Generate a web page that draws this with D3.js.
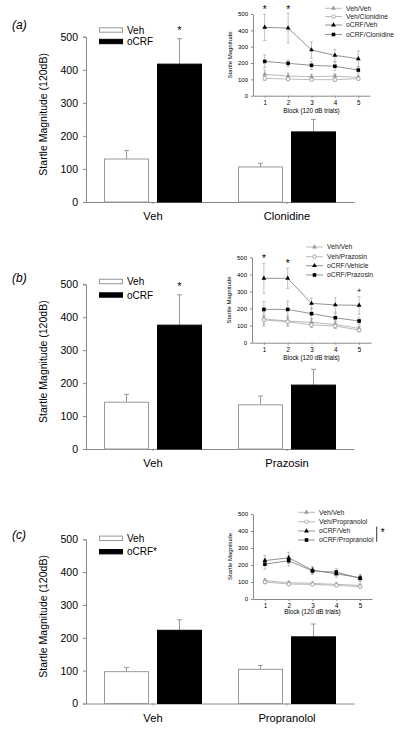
<!DOCTYPE html>
<html><head><meta charset="utf-8">
<script src="https://cdn.jsdelivr.net/npm/d3@7"></script>
<style>html,body{margin:0;padding:0;background:#fff}svg{display:block;font-family:Arial,"Liberation Sans",sans-serif}</style>
</head><body><svg id="c" width="400" height="730"></svg>
<script>
// ---------- DATA ----------
const yTicks = [0,100,200,300,400,500];
const blocks = [1,2,3,4,5];
const panelLabels = ["(a)","(b)","(c)"];
const groupsA = ["Veh","Clonidine"];
const groupsB = ["Veh","Prazosin"];
const groupsC = ["Veh","Propranolol"];
const vehMeanA = [130,106], vehSemA = [26,11];
const ocrfMeanA = [417,212], ocrfSemA = [77,38];
const vehMeanB = [142,134], vehSemB = [24,27];
const ocrfMeanB = [376,194], ocrfSemB = [92,48];
const vehMeanC = [97,104], vehSemC = [13,12];
const ocrfMeanC = [223,203], ocrfSemC = [32,39];
const legendA = ["Veh","oCRF"], legendB = ["Veh","oCRF"], legendC = ["Veh","oCRF*"];
// insets
const insetNamesA = ["Veh/Veh","Veh/Clonidine","oCRF/Veh","oCRF/Clonidine"];
const insetNamesB = ["Veh/Veh","Veh/Prazosin","oCRF/Vehicle","oCRF/Prazosin"];
const insetNamesC = ["Veh/Veh","Veh/Propranolol","oCRF/Veh","oCRF/Propranolol"];
const vehVehA = [131,120,116,120,112], vehVehSemA = [26,18,15,15,12];
const vehDrugA = [106,102,98,98,104], vehDrugSemA = [12,10,8,10,10];
const ocrfVehA = [418,414,280,247,226], ocrfVehSemA = [80,90,50,37,47];
const ocrfDrugA = [210,198,186,180,157], ocrfDrugSemA = [39,20,25,25,20];
const vehVehB = [139,127,119,107,84], vehVehSemB = [43,30,20,20,12];
const vehDrugB = [133,123,104,98,74], vehDrugSemB = [25,20,15,15,10];
const ocrfVehB = [377,377,230,221,219], ocrfVehSemB = [88,59,30,43,51];
const ocrfDrugB = [195,195,170,146,127], ocrfDrugSemB = [45,49,30,25,19];
const vehVehC = [108,96,92,86,80], vehVehSemC = [12,10,8,8,8];
const vehDrugC = [100,88,86,80,73], vehDrugSemC = [10,10,8,8,8];
const ocrfVehC = [226,242,170,148,125], ocrfVehSemC = [30,33,20,20,18];
const ocrfDrugC = [205,225,165,158,122], ocrfDrugSemC = [30,30,20,20,20];

const svg = d3.select("#c");
const AX = "#8a8a8a";

function mainPanel(o){
  const g = svg.append("g");
  const x = d3.scaleBand().domain(o.groups).range([86,354]).padding(0);
  const y = d3.scaleLinear().domain([0,500]).range([o.y0,o.yTop]);
  const bw = 45, gap = 4;
  const yAxis = d3.axisLeft(y).tickValues(yTicks).tickSize(3).tickPadding(5);
  const ya = g.append("g").attr("transform","translate(86,0)").call(yAxis);
  ya.select(".domain").attr("stroke",AX);
  ya.selectAll(".tick line").attr("stroke",AX);
  ya.selectAll("text").attr("font-size",10.5).attr("fill","#000");
  const xAxis = d3.axisBottom(x).tickSize(2).tickPadding(6).tickSizeOuter(0);
  const xa = g.append("g").attr("transform",`translate(0,${o.y0})`).call(xAxis);
  xa.select(".domain").attr("stroke",AX);
  xa.selectAll(".tick line").attr("stroke",AX);
  xa.selectAll("text").attr("font-size",11.2).attr("fill","#000").attr("dy","0.9em");
  const series = [
    {mean:o.veh, sem:o.vehSem, fill:"#fff", stroke:"#999", off:-gap-bw},
    {mean:o.ocrf, sem:o.ocrfSem, fill:"#000", stroke:"#000", off:gap}
  ];
  series.forEach(s=>{
    o.groups.forEach((gr,i)=>{
      const cx = x(gr)+x.bandwidth()/2;
      const xl = cx + s.off;
      const top = y(s.mean[i]), et = y(s.mean[i]+s.sem[i]);
      g.append("line").attr("x1",xl+bw/2).attr("x2",xl+bw/2).attr("y1",top).attr("y2",et).attr("stroke","#999").attr("stroke-width",1);
      g.append("line").attr("x1",xl+bw/2-2.5).attr("x2",xl+bw/2+2.5).attr("y1",et).attr("y2",et).attr("stroke","#999").attr("stroke-width",1);
      g.append("rect").attr("x",xl+0.5).attr("y",top).attr("width",bw-1).attr("height",o.y0-top)
        .attr("fill",s.fill).attr("stroke",s.stroke).attr("stroke-width",1);
    });
  });
  g.append("text").attr("transform",`translate(47,${(o.y0+o.yTop)/2-5}) rotate(-90)`)
    .attr("text-anchor","middle").attr("font-size",10.5).text("Startle Magnitude (120dB)");
  g.append("text").attr("x",12).attr("y",o.labelY).attr("font-size",12).attr("font-style","italic").text(o.label);
  [{f:"#fff",s:"#999",yy:o.legY[0]},{f:"#000",s:"#000",yy:o.legY[1]}].forEach((l,i)=>{
    g.append("rect").attr("x",99.5).attr("y",l.yy-2.2).attr("width",23).attr("height",4.4).attr("fill",l.f).attr("stroke",l.s).attr("stroke-width",1);
    g.append("text").attr("x",127).attr("y",l.yy).attr("dy","0.35em").attr("font-size",10).text(o.legend[i]);
  });
  if(o.star){
    const cx = x(o.groups[0])+x.bandwidth()/2 + gap + bw/2;
    g.append("text").attr("x",cx).attr("y",y(o.ocrf[0]+o.ocrfSem[0])-5).attr("text-anchor","middle").attr("font-size",11).text("*");
  }
}

function symbol(g,type,cx,cy,color){
  if(type==="tri"){
    g.append("path").attr("d",d3.symbol(d3.symbolTriangle,10)()).attr("transform",`translate(${cx},${cy})`).attr("fill",color);
  } else if(type==="sq"){
    g.append("rect").attr("x",cx-1.8).attr("y",cy-1.8).attr("width",3.6).attr("height",3.6).attr("fill",color);
  } else {
    g.append("circle").attr("cx",cx).attr("cy",cy).attr("r",1.8).attr("fill","#fff").attr("stroke",color).attr("stroke-width",0.8);
  }
}

function inset(o){
  const g = svg.append("g");
  const x = d3.scaleLinear().domain([0.5,5.5]).range(o.xr);
  const y = d3.scaleLinear().domain([0,500]).range([o.y0,o.yTop]);
  const ya = g.append("g").attr("transform",`translate(${o.xr[0]},0)`).call(d3.axisLeft(y).tickValues(yTicks).tickSize(2).tickPadding(3).tickSizeOuter(0));
  ya.select(".domain").attr("stroke",AX);
  ya.selectAll(".tick line").attr("stroke",AX);
  ya.selectAll("text").attr("font-size",6).attr("fill","#000");
  const xa = g.append("g").attr("transform",`translate(0,${o.y0})`).call(d3.axisBottom(x).tickValues(blocks).tickFormat(d3.format("d")).tickSize(2).tickPadding(3).tickSizeOuter(0));
  xa.select(".domain").attr("stroke",AX);
  xa.selectAll(".tick line").attr("stroke",AX);
  xa.selectAll("text").attr("font-size",6.3).attr("fill","#000");
  g.append("text").attr("x",(o.xr[0]+o.xr[1])/2).attr("y",o.y0+o.blockDy).attr("text-anchor","middle").attr("font-size",6.3).text("Block (120 dB trials)");
  g.append("text").attr("transform",`translate(${o.xr[0]-21},${(o.y0+o.yTop)/2}) rotate(-90)`).attr("text-anchor","middle").attr("font-size",6).text("Startle Magnitude");
  const types = ["tri","circ","tri","sq"];
  const cols = ["#999","#999","#000","#000"];
  const lcols = ["#aaa","#aaa","#777","#777"];
  o.series.forEach((s,k)=>{
    const line = d3.line().x((d,i)=>x(blocks[i])).y(d=>y(d));
    g.append("path").attr("d",line(s.m)).attr("fill","none").attr("stroke",lcols[k]).attr("stroke-width",0.8);
    s.m.forEach((v,i)=>{
      const cx = x(blocks[i]);
      g.append("line").attr("x1",cx).attr("x2",cx).attr("y1",y(v-s.e[i])).attr("y2",y(v+s.e[i])).attr("stroke","#999").attr("stroke-width",0.6);
      [v-s.e[i],v+s.e[i]].forEach(t=>g.append("line").attr("x1",cx-1.5).attr("x2",cx+1.5).attr("y1",y(t)).attr("y2",y(t)).attr("stroke","#999").attr("stroke-width",0.6));
    });
  });
  o.series.forEach((s,k)=>{
    s.m.forEach((v,i)=>symbol(g,types[k],x(blocks[i]),y(v),cols[k]));
  });
  o.names.forEach((n,k)=>{
    const yy = o.legY[k];
    g.append("line").attr("x1",o.legX).attr("x2",o.legX+17).attr("y1",yy).attr("y2",yy).attr("stroke",lcols[k]).attr("stroke-width",0.8);
    symbol(g,types[k],o.legX+8.5,yy,cols[k]);
    g.append("text").attr("x",o.legX+21).attr("y",yy).attr("dy","0.35em").attr("font-size",6.8).attr("fill","#222").text(n);
  });
  (o.marks||[]).forEach(m=>{
    g.append("text").attr("x",x(m.b)).attr("y",m.yy).attr("text-anchor","middle").attr("font-size",m.fs||10).text(m.t);
  });
  if(o.bracket){
    g.append("line").attr("x1",o.bracket.x).attr("x2",o.bracket.x).attr("y1",o.bracket.y1).attr("y2",o.bracket.y2).attr("stroke","#000").attr("stroke-width",0.8);
    g.append("text").attr("x",o.bracket.x+4).attr("y",o.bracket.y1+9).attr("font-size",10).text("*");
  }
}

mainPanel({groups:groupsA,veh:vehMeanA,vehSem:vehSemA,ocrf:ocrfMeanA,ocrfSem:ocrfSemA,y0:202,yTop:36.7,label:panelLabels[0],labelY:29,legY:[30,41.5],legend:legendA,star:true});
mainPanel({groups:groupsB,veh:vehMeanB,vehSem:vehSemB,ocrf:ocrfMeanB,ocrfSem:ocrfSemB,y0:449,yTop:284.3,label:panelLabels[1],labelY:282,legY:[281.5,295],legend:legendB,star:true});
mainPanel({groups:groupsC,veh:vehMeanC,vehSem:vehSemC,ocrf:ocrfMeanC,ocrfSem:ocrfSemC,y0:703.5,yTop:539.3,label:panelLabels[2],labelY:539,legY:[538.3,551.7],legend:legendC,star:false});

inset({xr:[253,370],y0:95.7,yTop:14,blockDy:17.5,names:insetNamesA,legX:325,legY:[8.3,16.5,25,34.5],
  series:[{m:vehVehA,e:vehVehSemA},{m:vehDrugA,e:vehDrugSemA},{m:ocrfVehA,e:ocrfVehSemA},{m:ocrfDrugA,e:ocrfDrugSemA}],
  marks:[{b:1,yy:13,t:"*"},{b:2,yy:13,t:"*"}]});
inset({xr:[252,371],y0:342.7,yTop:257.3,blockDy:17.5,names:insetNamesB,legX:306,legY:[247,256.7,265.7,275],
  series:[{m:vehVehB,e:vehVehSemB},{m:vehDrugB,e:vehDrugSemB},{m:ocrfVehB,e:ocrfVehSemB},{m:ocrfDrugB,e:ocrfDrugSemB}],
  marks:[{b:1,yy:262,t:"*"},{b:2,yy:267,t:"*"},{b:5,yy:293,t:"+",fs:8}]});
inset({xr:[253,372],y0:599,yTop:514,blockDy:15,names:insetNamesC,legX:298,legY:[512.3,521.7,531,540],
  series:[{m:vehVehC,e:vehVehSemC},{m:vehDrugC,e:vehDrugSemC},{m:ocrfVehC,e:ocrfVehSemC},{m:ocrfDrugC,e:ocrfDrugSemC}],
  bracket:{x:376.7,y1:526.7,y2:541.7}});
</script></body></html>
